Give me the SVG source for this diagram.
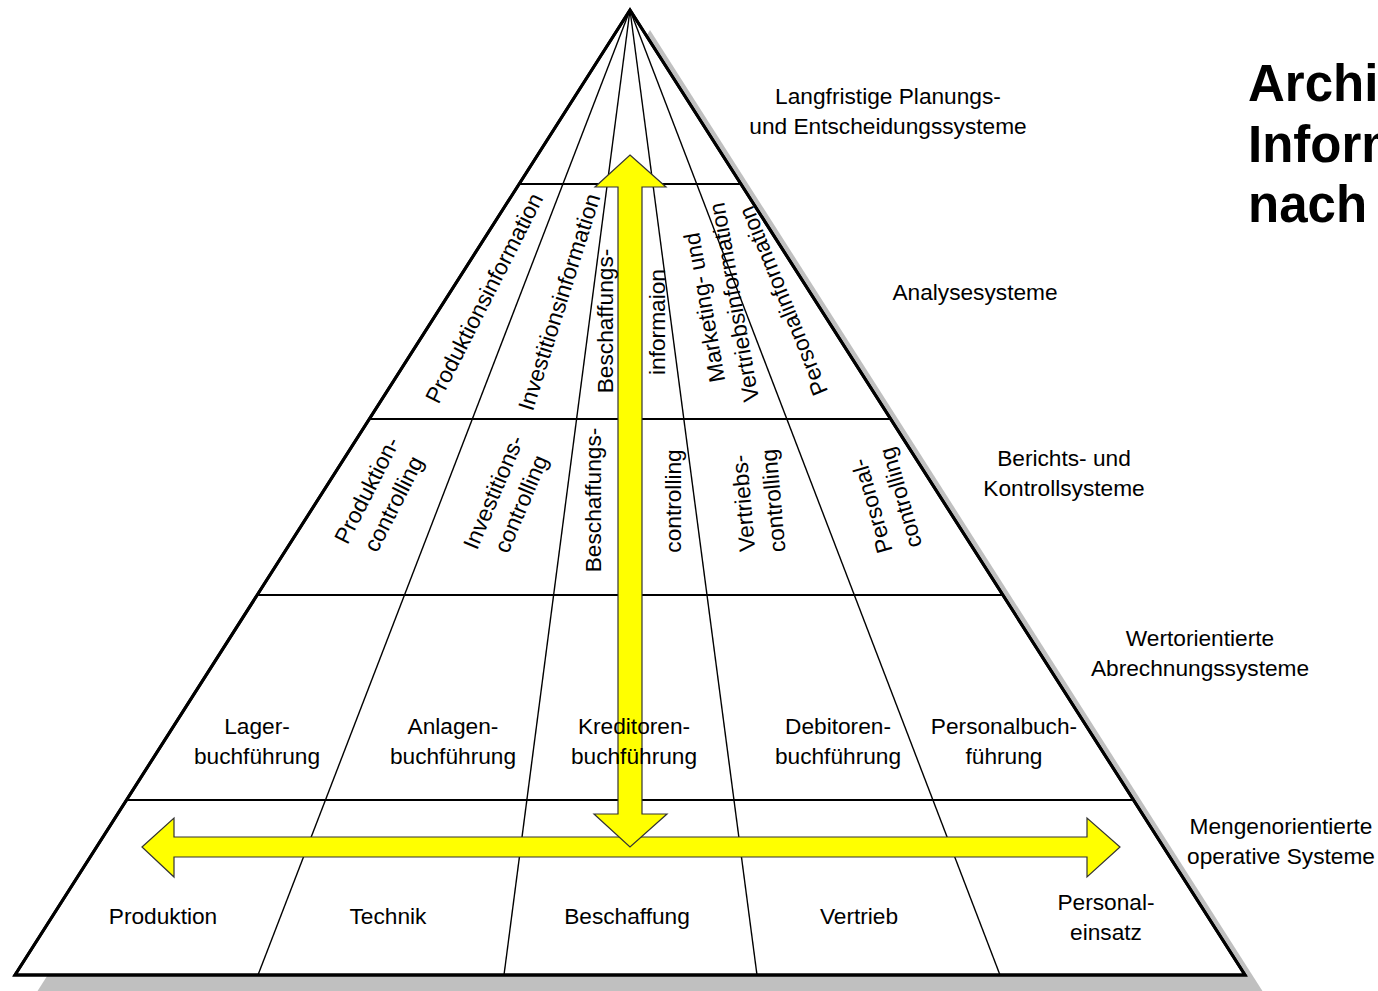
<svg xmlns="http://www.w3.org/2000/svg" width="1378" height="991" viewBox="0 0 1378 991">
<style>
  text { font-family: "Liberation Sans", Arial, sans-serif; font-size: 22.7px; fill: #000; }
  .c { text-anchor: middle; }
  .title { font-weight: bold; font-size: 51px; }
  .outer { fill: #fff; stroke: #000; stroke-width: 3; stroke-linejoin: miter; }
  .h { stroke: #000; stroke-width: 2; }
  .v { stroke: #000; stroke-width: 1.4; }
  .arrow { fill: #ffff00; stroke: #333; stroke-width: 1.2; stroke-linejoin: miter; }
</style>
<rect x="0" y="0" width="1378" height="991" fill="#fff"/>
<g id="shadow">
  <polygon points="650,30 35,995 1265,995" fill="#c0c0c0"/>
</g>
<g id="pyramid">
  <polygon class="outer" points="630,10 15,975 1245,975"/>
</g>
<g id="connectors">
  <line class="h" x1="519.1" y1="184" x2="740.9" y2="184"/>
  <line class="h" x1="369.3" y1="419" x2="890.7" y2="419"/>
  <line class="h" x1="257.2" y1="595" x2="1002.8" y2="595"/>
  <line class="h" x1="126.5" y1="800" x2="1133.5" y2="800"/>
  <line class="v" x1="630" y1="10" x2="258" y2="975"/>
  <line class="v" x1="630" y1="10" x2="504" y2="975"/>
  <line class="v" x1="630" y1="10" x2="757" y2="975"/>
  <line class="v" x1="630" y1="10" x2="1000" y2="975"/>
  <polygon class="outer" points="630,10 15,975 1245,975" style="fill:none"/>
</g>
<g id="arrows">
  <polygon class="arrow" points="142,847 174,818 174,837 1087,837 1087,818 1120,847 1087,877 1087,857 174,857 174,877"/>
  <polygon class="arrow" points="630,155 666,187 642,187 642,814 667,814 630,847 594,814 618,814 618,187 595,187"/>
</g>
<g id="labels-right">
  <text class="c" x="888" y="104">Langfristige Planungs-</text>
  <text class="c" x="888" y="134">und Entscheidungssysteme</text>
  <text class="c" x="975" y="300">Analysesysteme</text>
  <text class="c" x="1064" y="466">Berichts- und</text>
  <text class="c" x="1064" y="496">Kontrollsysteme</text>
  <text class="c" x="1200" y="646">Wertorientierte</text>
  <text class="c" x="1200" y="676">Abrechnungssysteme</text>
  <text class="c" x="1281" y="834">Mengenorientierte</text>
  <text class="c" x="1281" y="864">operative Systeme</text>
</g>
<g id="title">
  <text class="title" x="1248" y="101">Archi</text>
  <text class="title" x="1248" y="162">Inform</text>
  <text class="title" x="1248" y="222">nach</text>
</g>
<g id="layer-information">
  <text class="c" transform="translate(484,298) rotate(-63)" y="8">Produktionsinformation</text>
  <text class="c" transform="translate(559,302) rotate(-72.5)" y="8">Investitionsinformation</text>
  <text class="c" transform="translate(605,321) rotate(-90)" y="8">Beschaffungs-</text>
  <text class="c" transform="translate(657,322) rotate(-90)" y="8">informaion</text>
  <g transform="translate(719,305) rotate(-100)">
    <text class="c" y="-7">Marketing- und</text>
    <text class="c" y="23">Vertriebsinformation</text>
  </g>
  <text class="c" transform="translate(783,301) rotate(-112)" y="8">Personalinformation</text>
</g>
<g id="layer-controlling">
  <g transform="translate(380,497) rotate(-63)">
    <text class="c" y="-7">Produktion-</text>
    <text class="c" y="23">controlling</text>
  </g>
  <g transform="translate(507,498) rotate(-67)">
    <text class="c" y="-7">Investitions-</text>
    <text class="c" y="23">controlling</text>
  </g>
  <text class="c" transform="translate(593,500) rotate(-90)" y="8">Beschaffungs-</text>
  <text class="c" transform="translate(673,501) rotate(-90)" y="8">controlling</text>
  <g transform="translate(758,502) rotate(-95)">
    <text class="c" y="-7">Vertriebs-</text>
    <text class="c" y="23">controlling</text>
  </g>
  <g transform="translate(886,502) rotate(-106)">
    <text class="c" y="-7">Personal-</text>
    <text class="c" y="23">controlling</text>
  </g>
</g>
<g id="layer-buchfuehrung">
  <text class="c" x="257" y="734">Lager-</text>
  <text class="c" x="257" y="764">buchführung</text>
  <text class="c" x="453" y="734">Anlagen-</text>
  <text class="c" x="453" y="764">buchführung</text>
  <text class="c" x="634" y="734">Kreditoren-</text>
  <text class="c" x="634" y="764">buchführung</text>
  <text class="c" x="838" y="734">Debitoren-</text>
  <text class="c" x="838" y="764">buchführung</text>
  <text class="c" x="1004" y="734">Personalbuch-</text>
  <text class="c" x="1004" y="764">führung</text>
</g>
<g id="layer-operativ">
  <text class="c" x="163" y="924">Produktion</text>
  <text class="c" x="388" y="924">Technik</text>
  <text class="c" x="627" y="924">Beschaffung</text>
  <text class="c" x="859" y="924">Vertrieb</text>
  <text class="c" x="1106" y="910">Personal-</text>
  <text class="c" x="1106" y="940">einsatz</text>
</g>
</svg>
